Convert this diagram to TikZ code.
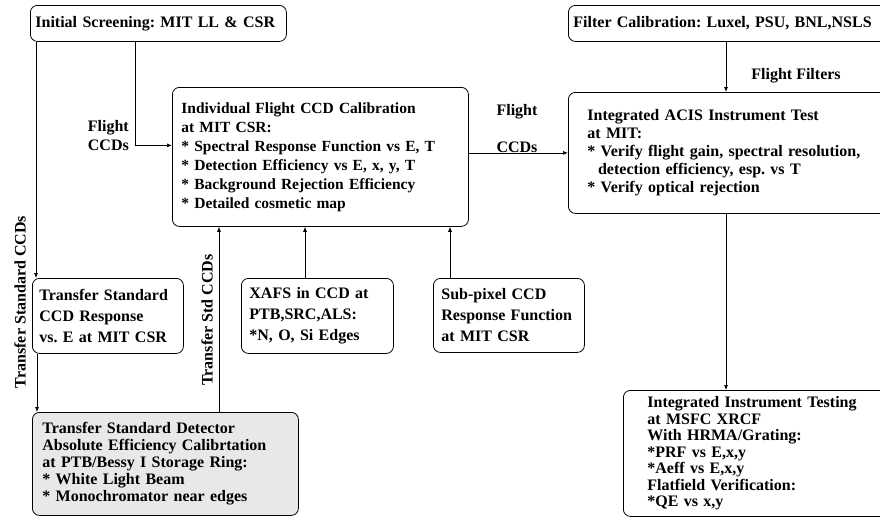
\documentclass[tikz,border=0pt]{standalone}
\usepackage{fontspec}
\setmainfont{Liberation Serif}
\usetikzlibrary{arrows.meta}
\frenchspacing
\begin{document}
\begin{tikzpicture}[x=1pt,y=-1pt,
    box/.style={draw,line width=0.8pt,rounded corners=7pt,anchor=north west,align=left,
                font=\bfseries\fontsize{16}{19}\selectfont},
    lbl/.style={font=\bfseries\fontsize{16}{19}\selectfont,inner sep=0pt},
    arr/.style={line width=0.7pt,-{Latex[length=5pt,width=4pt]}}]
                \useasboundingbox (0,0) rectangle (880,520);
                %NODE
                \node[box,text width=246pt,inner xsep=5pt,minimum width=256pt,minimum height=36pt] (init) at (30,5)
                    {Initial Screening: MIT LL \& CSR};
                \node[box,text width=278pt,inner xsep=9pt,minimum width=296pt,minimum height=139pt,
                      font=\bfseries\fontsize{15.5}{19}\selectfont] (indiv) at (172,87)
                    {Individual Flight CCD Calibration\\at MIT CSR:\\{*} Spectral Response Function vs E, T\\{*} Detection Efficiency vs E, x, y, T\\{*} Background Rejection Efficiency\\{*} Detailed cosmetic map};
                \node[box,text width=330pt,inner xsep=5pt,minimum width=340pt,minimum height=36pt] (filter) at (568,5)
                    {Filter Calibration: Luxel, PSU, BNL,NSLS};
                \node[box,text width=300pt,inner xsep=19pt,minimum width=338pt,minimum height=121pt,
                      font=\bfseries\fontsize{16}{18}\selectfont] (acis) at (568,92)
                    {Integrated ACIS Instrument Test\\at MIT:\\{*} Verify flight gain, spectral resolution,\\\ \ detection efficiency, esp. vs T\\{*} Verify optical rejection};
                \node[box,text width=137pt,inner xsep=7pt,minimum width=151pt,minimum height=75pt,
                      font=\bfseries\fontsize{16}{21}\selectfont] (xfer) at (32,278)
                    {Transfer Standard\\CCD Response\\vs. E at MIT CSR};
                \node[box,text width=136pt,inner xsep=8pt,minimum width=152pt,minimum height=75pt,
                      font=\bfseries\fontsize{16}{21}\selectfont] (xafs) at (241,278)
                    {XAFS in CCD at\\PTB,SRC,ALS:\\{*}N, O, Si Edges};
                \node[box,text width=135pt,inner xsep=8pt,minimum width=151pt,minimum height=74pt,
                      font=\bfseries\fontsize{16}{21}\selectfont] (subpix) at (433,278)
                    {Sub-pixel CCD\\Response Function\\at MIT CSR};
                \node[box,fill=gray!18,text width=246pt,inner xsep=10pt,minimum width=266pt,minimum height=103pt,
                      font=\bfseries\fontsize{16}{17}\selectfont] (abscal) at (32,412)
                    {Transfer Standard Detector\\Absolute Efficiency Calibrtation\\at PTB/Bessy I Storage Ring:\\{*} White Light Beam\\{*} Monochromator near edges};
                \node[box,text width=260pt,inner xsep=24pt,minimum width=308pt,minimum height=126pt,
                      font=\bfseries\fontsize{16}{16.5}\selectfont] (iit) at (623,390)
                    {Integrated Instrument Testing\\at MSFC XRCF\\With HRMA/Grating:\\{*}PRF vs E,x,y\\{*}Aeff vs E,x,y\\Flatfield Verification:\\{*}QE vs x,y};

                %LABEL
                \node[lbl,rotate=90] (tsLbl) at (20,302) {Transfer Standard CCDs};
                \node[lbl,rotate=90] (tsdLbl) at (207,320) {Transfer Std CCDs};
                \node[lbl,align=right,anchor=east] (flightA) at (129,136) {Flight\\CCDs};
                \node[lbl,align=center] (flightB) at (517,129) {Flight\\[18pt]CCDs};
                \node[lbl] (filtLbl) at (796,76) {Flight Filters};

                %EDGE
                \coordinate (xafsTop) at ([xshift=64pt]xafs.north west);
                \coordinate (subTop) at ([xshift=17pt]subpix.north west);
                \coordinate (absTop) at ([xshift=187pt]abscal.north west);
                \draw[arr] ([xshift=6pt]init.south west) -- ([xshift=4pt]xfer.north west);
                \draw[arr] ([xshift=5pt]xfer.south west) -- ([xshift=5pt]abscal.north west);
                \draw[arr] ([xshift=105pt]init.south west) |- ([yshift=11.5pt]indiv.west);
                \draw[arr] (indiv.east |- acis.west) -- (acis.west);
                \draw[arr] ([xshift=158pt]filter.south west) -- ([xshift=158pt]acis.north west);
                \draw[arr] ([xshift=158pt]acis.south west) -- ([xshift=103pt]iit.north west);
                \draw[arr] (xafsTop) -- (xafsTop |- indiv.south);
                \draw[arr] (subTop) -- (subTop |- indiv.south);
                \draw[arr] (absTop) -- (absTop |- indiv.south);
            \end{tikzpicture}
\end{document}
